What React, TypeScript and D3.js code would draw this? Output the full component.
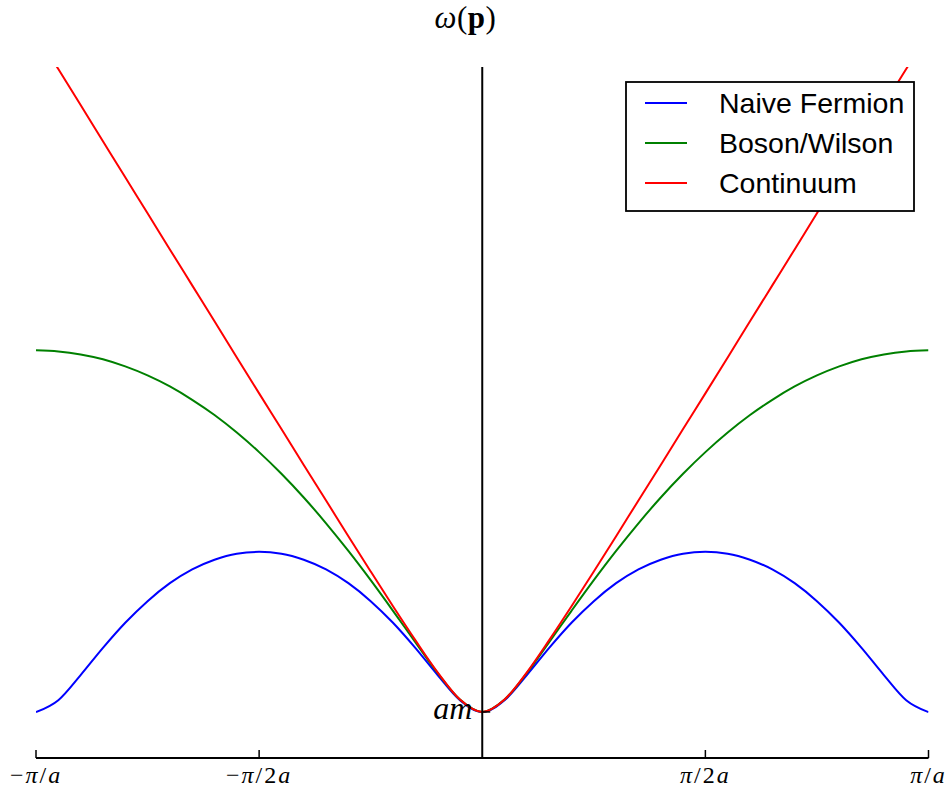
import React from "react";
import * as d3 from "d3";

// momentum p in units of pi/a
const momentum = [
  -1.0, -0.95, -0.9, -0.85, -0.8, -0.75, -0.7, -0.65, -0.6, -0.55, -0.5, -0.45, -0.4, -0.35, -0.3, -0.25, -0.2, -0.15, -0.1, -0.05,
  0.0, 0.05, 0.1, 0.15, 0.2, 0.25, 0.3, 0.35, 0.4, 0.45, 0.5, 0.55, 0.6, 0.65, 0.7, 0.75, 0.8, 0.85, 0.9, 0.95, 1.0,
];

const naiveFermion = [
  0.199, 0.251, 0.36, 0.478, 0.587, 0.681, 0.759, 0.819, 0.861, 0.887, 0.895, 0.887, 0.861, 0.819, 0.759, 0.681, 0.587, 0.478, 0.36, 0.251,
  0.199, 0.251, 0.36, 0.478, 0.587, 0.681, 0.759, 0.819, 0.861, 0.887, 0.895, 0.887, 0.861, 0.819, 0.759, 0.681, 0.587, 0.478, 0.36, 0.251, 0.199,
];

const bosonWilson = [
  1.77, 1.765, 1.752, 1.731, 1.7, 1.661, 1.613, 1.555, 1.489, 1.413, 1.328, 1.234, 1.131, 1.019, 0.899, 0.772, 0.639, 0.503, 0.369, 0.254,
  0.2, 0.254, 0.369, 0.503, 0.639, 0.772, 0.899, 1.019, 1.131, 1.234, 1.328, 1.413, 1.489, 1.555, 1.613, 1.661, 1.7, 1.731, 1.752, 1.765, 1.77,
];

const continuum = [
  3.148, 2.991, 2.835, 2.678, 2.521, 2.365, 2.208, 2.052, 1.896, 1.739, 1.583, 1.428, 1.272, 1.118, 0.963, 0.81, 0.659, 0.512, 0.372, 0.254,
  0.2, 0.254, 0.372, 0.512, 0.659, 0.81, 0.963, 1.118, 1.272, 1.428, 1.583, 1.739, 1.896, 2.052, 2.208, 2.365, 2.521, 2.678, 2.835, 2.991, 3.148,
];

const seriesNames = ["Naive Fermion", "Boson/Wilson", "Continuum"];
const seriesColors = ["#0000ff", "#008000", "#ff0000"];
const seriesValues = [naiveFermion, bosonWilson, continuum];

const xTickValues = [-1, -0.5, 0.5, 1];
const xTickLabels = [
  [["−", "n"], ["π", "i"], ["/", "n"], ["a", "i"]],
  [["−", "n"], ["π", "i"], ["/", "n"], ["2", "n"], ["a", "i"]],
  [["π", "i"], ["/", "n"], ["2", "n"], ["a", "i"]],
  [["π", "i"], ["/", "n"], ["a", "i"]],
];
const yTickValue = 0.2;

const W = 951;
const H = 796;
const left = 36;
const right = 928.5;
const top = 67;
const bottom = 758;

export default function App() {
  const x = d3.scaleLinear().domain([-1, 1]).range([left, right]);
  const y = d3.scaleLinear().domain([0, 3]).range([bottom, top]);
  const line = d3
    .line<number>()
    .x((_, i) => x(momentum[i]))
    .y((d) => y(d))
    .curve(d3.curveMonotoneX);

  const serif = "'Liberation Serif', 'Times New Roman', serif";
  const sans = "'Liberation Sans', Arial, sans-serif";

  const legX = 626;
  const legY = 82;
  const legW = 288;
  const legH = 129;

  return (
    <svg
      width={W}
      height={H}
      style={{ position: "absolute", left: 0, top: 0, background: "#fff" }}
    >
      <defs>
        <clipPath id="plotclip">
          <rect x={left} y={top} width={right - left} height={bottom - top} />
        </clipPath>
      </defs>
      <rect x={0} y={0} width={W} height={H} fill="#fff" />

      {/* curves */}
      <g clipPath="url(#plotclip)">
        {seriesValues.map((vals, si) => (
          <path
            key={si}
            d={line(vals) || ""}
            fill="none"
            stroke={seriesColors[si]}
            strokeWidth={2}
            strokeLinejoin="round"
          />
        ))}
      </g>

      {/* spines */}
      <line x1={x(0)} x2={x(0)} y1={top} y2={bottom} stroke="#000" strokeWidth={2} />
      <line x1={left} x2={right} y1={bottom} y2={bottom} stroke="#000" strokeWidth={2} />

      {/* x ticks */}
      {xTickValues.map((v, i) => (
        <g key={i}>
          <line x1={x(v)} x2={x(v)} y1={bottom} y2={bottom - 8} stroke="#000" strokeWidth={1.5} />
          <text
            x={x(v)}
            y={783}
            textAnchor="middle"
            fontFamily={serif}
            fontSize={24}
            letterSpacing={2}
          >
            {xTickLabels[i].map(([t, s], j) => (
              <tspan key={j} fontStyle={s === "i" ? "italic" : "normal"}>
                {t}
              </tspan>
            ))}
          </text>
        </g>
      ))}

      {/* y tick at am */}
      <line x1={x(0)} x2={x(0) + 8} y1={y(yTickValue)} y2={y(yTickValue)} stroke="#000" strokeWidth={1.5} />
      <text
        x={x(0) - 10}
        y={y(yTickValue) + 7}
        textAnchor="end"
        fontFamily={serif}
        fontStyle="italic"
        fontSize={32}
      >
        am
      </text>

      {/* title */}
      <text x={465.5} y={28} textAnchor="middle" fontFamily={serif} fontSize={31} letterSpacing={0.5}>
        <tspan fontStyle="italic">ω</tspan>
        <tspan>(</tspan>
        <tspan fontWeight="bold">p</tspan>
        <tspan>)</tspan>
      </text>

      {/* legend */}
      <rect x={legX} y={legY} width={legW} height={legH} fill="#fff" stroke="#000" strokeWidth={1.8} />
      {seriesNames.map((name, i) => (
        <g key={name}>
          <line
            x1={645}
            x2={687}
            y1={103 + i * 40}
            y2={103 + i * 40}
            stroke={seriesColors[i]}
            strokeWidth={2}
          />
          <text x={719} y={113.3 + i * 40} fontFamily={sans} fontSize={28.5} fill="#000">
            {name}
          </text>
        </g>
      ))}
    </svg>
  );
}
